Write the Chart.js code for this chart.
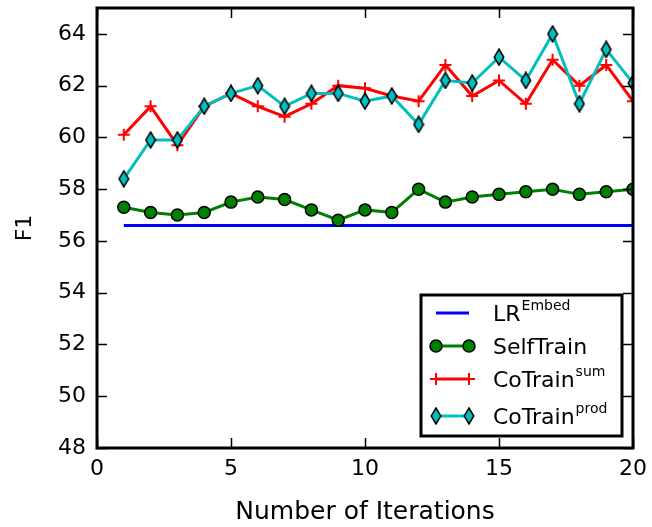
<!DOCTYPE html>
<html>
<head>
<meta charset="utf-8">
<script src="https://cdn.jsdelivr.net/npm/chart.js@4.4.1/dist/chart.umd.min.js"></script>
<style>
  html, body { margin: 0; padding: 0; background: #fff; }
  #wrap { width: 652px; height: 527px; position: relative; }
</style>
</head>
<body>
<div id="wrap"><canvas id="chart"></canvas></div>
<script>
// ---- data ----
const iterations = [1, 2, 3, 4, 5, 6, 7, 8, 9, 10, 11, 12, 13, 14, 15, 16, 17, 18, 19, 20];
const lrEmbed    = [56.6, 56.6, 56.6, 56.6, 56.6, 56.6, 56.6, 56.6, 56.6, 56.6, 56.6, 56.6, 56.6, 56.6, 56.6, 56.6, 56.6, 56.6, 56.6, 56.6];
const selfTrain  = [57.3, 57.1, 57.0, 57.1, 57.5, 57.7, 57.6, 57.2, 56.8, 57.2, 57.1, 58.0, 57.5, 57.7, 57.8, 57.9, 58.0, 57.8, 57.9, 58.0];
const coTrainSum = [60.1, 61.2, 59.7, 61.2, 61.7, 61.2, 60.8, 61.3, 62.0, 61.9, 61.6, 61.4, 62.8, 61.6, 62.2, 61.3, 63.0, 62.0, 62.8, 61.4];
const coTrainProd = [58.4, 59.9, 59.9, 61.2, 61.7, 62.0, 61.2, 61.7, 61.7, 61.4, 61.6, 60.5, 62.2, 62.1, 63.1, 62.2, 64.0, 61.3, 63.4, 62.1];
const xTicks = [0, 5, 10, 15, 20];
const yTicks = [48, 50, 52, 54, 56, 58, 60, 62, 64];

const FONT = "'DejaVu Sans', sans-serif";

// thin diamond marker
function makeDiamond() {
    const w = 12, h = 18;
    const c = document.createElement("canvas");
    c.width = w; c.height = h;
    const g = c.getContext("2d");
    g.beginPath();
    g.moveTo(w / 2, 1);
    g.lineTo(w - 1.2, h / 2);
    g.lineTo(w / 2, h - 1);
    g.lineTo(1.2, h / 2);
    g.closePath();
    g.fillStyle = "#00BFBF";
    g.fill();
    g.lineWidth = 1.5;
    g.strokeStyle = "#000";
    g.stroke();
    return c;
}
const diamond = makeDiamond();

function pts(ys) {
    return iterations.map((x, i) => ({ x: x, y: ys[i] }));
}

// ================================
// frame, inward ticks and legend
// ================================
const framePlugin = {
    id: "frame",
    afterDatasetsDraw(chart) {
        const ctx = chart.ctx;
        const a = chart.chartArea;
        const xs = chart.scales.x, ys = chart.scales.y;
        const tl = 10;
        ctx.save();
        ctx.strokeStyle = "#000";
        ctx.lineWidth = 1.5;
        ctx.beginPath();
        xTicks.forEach(v => {
            const px = Math.round(xs.getPixelForValue(v)) + 0.5;
            ctx.moveTo(px, a.bottom); ctx.lineTo(px, a.bottom - tl);
            ctx.moveTo(px, a.top); ctx.lineTo(px, a.top + tl);
        });
        yTicks.forEach(v => {
            const py = Math.round(ys.getPixelForValue(v)) + 0.5;
            ctx.moveTo(a.left, py); ctx.lineTo(a.left + tl, py);
            ctx.moveTo(a.right, py); ctx.lineTo(a.right - tl, py);
        });
        ctx.stroke();
        ctx.lineWidth = 3;
        ctx.strokeRect(a.left, a.top, a.right - a.left, a.bottom - a.top);

        // legend box
        const lx = 421, ly = 295, lw = 201, lh = 141;
        ctx.fillStyle = "#fff";
        ctx.fillRect(lx, ly, lw, lh);
        ctx.lineWidth = 3;
        ctx.strokeRect(lx, ly, lw, lh);

        const rows = [
            { y: 313, label: "LR", sup: "Embed", ds: 0 },
            { y: 346, label: "SelfTrain", sup: "", ds: 1 },
            { y: 379, label: "CoTrain", sup: "sum", ds: 2 },
            { y: 416, label: "CoTrain", sup: "prod", ds: 3 }
        ];
        const x0 = 436, x1 = 469, tx = 493;
        rows.forEach(r => {
            const d = chart.data.datasets[r.ds];
            ctx.strokeStyle = d.borderColor;
            ctx.lineWidth = 3;
            ctx.beginPath();
            ctx.moveTo(x0, r.y); ctx.lineTo(x1, r.y);
            ctx.stroke();
            if (d.pointRadius > 0) {
                [x0, x1].forEach(px => {
                    ctx.fillStyle = d.pointBackgroundColor || d.borderColor;
                    ctx.strokeStyle = d.pointBorderColor || d.borderColor;
                    ctx.lineWidth = d.pointBorderWidth || 1;
                    Chart.helpers.drawPoint(ctx, {
                        pointStyle: d.pointStyle,
                        radius: d.pointRadius,
                        borderWidth: d.pointBorderWidth
                    }, px, r.y);
                });
            }
            ctx.fillStyle = "#000";
            ctx.textBaseline = "alphabetic";
            ctx.textAlign = "left";
            ctx.font = "22px " + FONT;
            ctx.fillText(r.label, tx, r.y + 8);
            if (r.sup) {
                const w = ctx.measureText(r.label).width;
                ctx.font = "14px " + FONT;
                ctx.fillText(r.sup, tx + w + 1, r.y - 3);
            }
        });
        ctx.restore();
    }
};

const chart = new Chart(document.getElementById("chart"), {
    type: "line",
    data: {
        datasets: [
            {
                label: "LR Embed",
                data: pts(lrEmbed),
                borderColor: "#0000FF",
                borderWidth: 3,
                pointRadius: 0,
                order: 3
            },
            {
                label: "SelfTrain",
                data: pts(selfTrain),
                borderColor: "#008000",
                backgroundColor: "#008000",
                borderWidth: 3,
                pointStyle: "circle",
                pointRadius: 6,
                pointBackgroundColor: "#008000",
                pointBorderColor: "#000",
                pointBorderWidth: 1.5,
                order: 2
            },
            {
                label: "CoTrain sum",
                data: pts(coTrainSum),
                borderColor: "#FF0000",
                backgroundColor: "#FF0000",
                borderWidth: 3,
                pointStyle: "cross",
                pointRadius: 6,
                pointBorderColor: "#FF0000",
                pointBorderWidth: 2,
                order: 1
            },
            {
                label: "CoTrain prod",
                data: pts(coTrainProd),
                borderColor: "#00BFBF",
                backgroundColor: "#00BFBF",
                borderWidth: 3,
                pointStyle: diamond,
                pointRadius: 8,
                pointBorderWidth: 0,
                order: 0
            }
        ]
    },
    options: {
        responsive: true,
        maintainAspectRatio: false,
        animation: false,
        events: [],
        layout: { padding: { top: 8, right: 19, left: 0, bottom: 0 } },
        elements: { line: { tension: 0, fill: false } },
        datasets: { line: { clip: 0 } },
        plugins: {
            legend: { display: false },
            tooltip: { enabled: false }
        },
        scales: {
            x: {
                type: "linear",
                min: 0,
                max: 20,
                afterBuildTicks: s => { s.ticks = xTicks.map(v => ({ value: v })); },
                afterFit: s => { s.height = 79; s.paddingLeft = 0; s.paddingRight = 0; },
                grid: { display: false, drawTicks: false },
                border: { display: false },
                ticks: { color: "#000", padding: 8, maxRotation: 0, font: { family: FONT, size: 22 } },
                title: {
                    display: true,
                    text: "Number of Iterations",
                    color: "#000",
                    font: { family: FONT, size: 25 },
                    padding: { top: 0, bottom: 0 }
                }
            },
            y: {
                min: 48,
                max: 65,
                afterBuildTicks: s => { s.ticks = yTicks.map(v => ({ value: v })); },
                afterFit: s => { s.width = 97; s.paddingTop = 0; s.paddingBottom = 0; },
                grid: { display: false, drawTicks: false },
                border: { display: false },
                ticks: { color: "#000", padding: 11, font: { family: FONT, size: 22 } },
                title: {
                    display: true,
                    text: "F1",
                    color: "#000",
                    font: { family: FONT, size: 22 },
                    padding: { top: 12, bottom: 0 }
                }
            }
        }
    },
    plugins: [framePlugin]
});
</script>
</body>
</html>
